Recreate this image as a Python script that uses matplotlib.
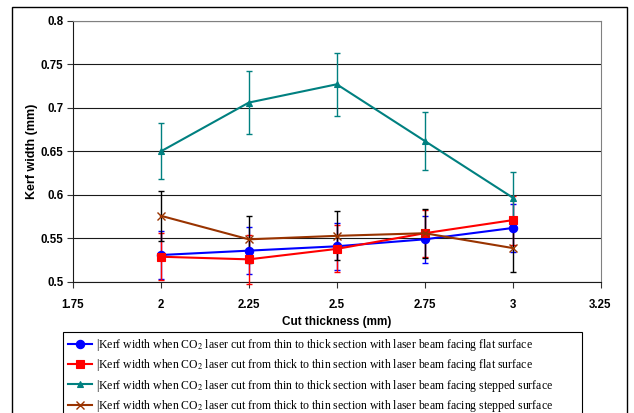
import matplotlib
matplotlib.use("Agg")
import matplotlib.pyplot as plt
from matplotlib.patches import Rectangle

plt.rcParams['mathtext.fontset'] = 'stix'

thickness = [2.0, 2.25, 2.5, 2.75, 3.0]

blue_vals = [0.531, 0.536, 0.541, 0.549, 0.562]
blue_err = [0.027, 0.027, 0.027, 0.027, 0.028]

red_vals = [0.529, 0.526, 0.538, 0.556, 0.571]
red_err = [0.027, 0.028, 0.027, 0.027, 0.028]

teal_vals = [0.650, 0.706, 0.727, 0.662, 0.597]
teal_err = [0.032, 0.036, 0.036, 0.033, 0.029]

brown_vals = [0.576, 0.549, 0.553, 0.556, 0.539]
brown_err = [0.029, 0.027, 0.028, 0.028, 0.027]

labels = [
    "|Kerf width when CO$_2$ laser cut from thin to thick section with laser beam facing flat surface",
    "|Kerf width when CO$_2$ laser cut from thick to thin section with laser beam facing flat surface",
    "|Kerf width when CO$_2$ laser cut from thin to thick section with laser beam facing stepped surface",
    "|Kerf width when CO$_2$ laser cut from thick to thin section with laser beam facing stepped surface",
]

xticks = [1.75, 2, 2.25, 2.5, 2.75, 3, 3.25]
xticklabels = ["1.75", "2", "2.25", "2.5", "2.75", "3", "3.25"]
yticks = [0.5, 0.55, 0.6, 0.65, 0.7, 0.75, 0.8]
yticklabels = ["0.5", "0.55", "0.6", "0.65", "0.7", "0.75", "0.8"]

W, H = 634, 413
fig = plt.figure(figsize=(W / 100, H / 100), dpi=100)
ax = fig.add_axes([73 / W, 1 - 282 / H, (600.5 - 73) / W, (282 - 20.7) / H])

# outer border
fig.patches.append(Rectangle((12 / W, -0.05), (627 - 12) / W, 1 - 7 / H + 0.05,
                             transform=fig.transFigure, fill=False, edgecolor='black',
                             linewidth=1.0, zorder=0))

series = [
    (blue_vals, blue_err, '#0000FF', '#0000FF', 'o', 6),
    (red_vals, red_err, '#FF0000', '#FF0000', 's', 6),
    (teal_vals, teal_err, '#008080', '#008080', '^', 4),
    (brown_vals, brown_err, '#993300', '#000000', 'x', 6),
]

handles = []
for (vals, err, col, ecol, mk, ms), lab in zip(series, labels):
    ax.errorbar(thickness, vals, yerr=err, fmt='none', ecolor=ecol, elinewidth=1.0,
                capsize=2.5, capthick=1.0, zorder=3, clip_on=False)
    h, = ax.plot(thickness, vals, color=col, marker=mk, markersize=ms, linewidth=1.5,
                 markeredgewidth=1.0 if mk == 'x' else 0.8, label=lab, zorder=4, clip_on=False)
    handles.append(h)

ax.set_xlim(1.75, 3.25)
ax.set_ylim(0.5, 0.8)
ax.set_xticks(xticks)
ax.set_xticklabels(xticklabels)
ax.set_yticks(yticks)
ax.set_yticklabels(yticklabels)

tick_font = dict(family='Liberation Sans', weight='bold', size=8.3)
for t in ax.get_xticklabels() + ax.get_yticklabels():
    t.set_fontproperties(matplotlib.font_manager.FontProperties(**tick_font))

ax.tick_params(axis='both', direction='out', length=4, width=0.8, color='#333333')
ax.tick_params(axis='x', pad=8)
ax.tick_params(axis='y', pad=3)

ax.yaxis.grid(True, color='#1a1a1a', linewidth=0.8)
ax.set_axisbelow(True)
for s in ['top', 'right']:
    ax.spines[s].set_color('#808080')
    ax.spines[s].set_linewidth(0.8)
for s in ['left', 'bottom']:
    ax.spines[s].set_color('#1a1a1a')
    ax.spines[s].set_linewidth(0.8)

ax.set_xlabel("Cut thickness (mm)", family='Liberation Sans', weight='bold', size=8.5, labelpad=4)
ax.set_ylabel("Kerf width (mm)", family='Liberation Sans', weight='bold', size=9, labelpad=1.5)

leg = fig.legend(handles=handles, labels=labels, loc='upper left',
                 bbox_to_anchor=(63 / W, 1 - 332 / H, (582 - 63) / W, 0.0001),
                 mode='expand', borderaxespad=0, frameon=True, fancybox=False,
                 prop={'family': 'Liberation Serif', 'size': 8.5},
                 handlelength=2.0, handletextpad=0.35, labelspacing=0.35,
                 borderpad=0.45, edgecolor='black', framealpha=1)
leg.get_frame().set_linewidth(0.8)

fig.savefig("out.png", dpi=100)
